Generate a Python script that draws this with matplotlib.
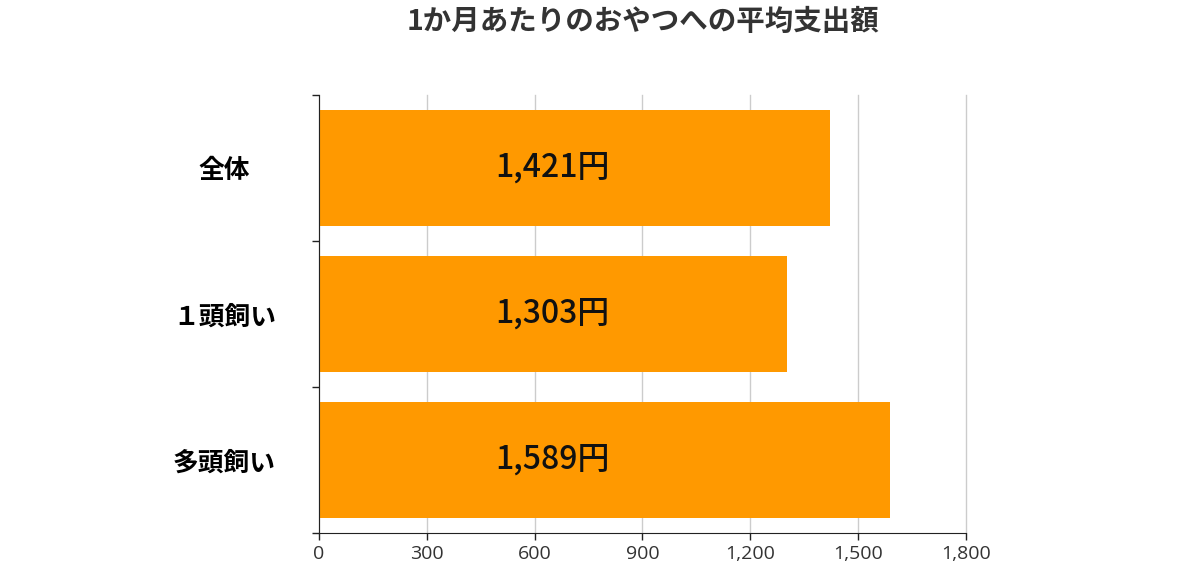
import numpy as np
import matplotlib
matplotlib.use("Agg")
import matplotlib.pyplot as plt
from matplotlib.ticker import FuncFormatter

plt.rcParams['font.family'] = ['Noto Sans CJK JP', 'DejaVu Sans']

# data
categories = ["全体", "１頭飼い", "多頭飼い"]
values = [1421, 1303, 1589]
labels = ["1,421円", "1,303円", "1,589円"]
xticks = [0, 300, 600, 900, 1200, 1500, 1800]

fig = plt.figure(figsize=(12, 5.82), dpi=100)
ax = fig.add_axes([0.2658, 0.0842, 0.8050 - 0.2658, 0.8368 - 0.0842])

y = np.arange(len(categories))
ax.barh(y, values, height=0.8, color="#ff9900", zorder=2)

for yi, lab in zip(y, labels):
    ax.text(650, yi, lab, ha="center", va="center", fontsize=23,
            fontweight="medium", color="#111111", zorder=3)

ax.set_xlim(0, 1800)
ax.set_ylim(2.5, -0.5)
ax.set_xticks(xticks)
ax.xaxis.set_major_formatter(FuncFormatter(lambda v, p: f"{int(v):,}"))
ax.tick_params(axis="x", length=5, width=1, color="#222222", labelsize=14,
               labelcolor="#333333", pad=4)
for t in ax.get_xticklabels():
    t.set_fontfamily(["Open Sans", "DejaVu Sans"])

ax.set_yticks(y)
ax.set_yticklabels(categories, fontsize=18.5, fontweight="bold", ha="center")
ax.tick_params(axis="y", which="major", length=0, pad=68)
ax.set_yticks([-0.5, 0.5, 1.5, 2.5], minor=True)
ax.tick_params(axis="y", which="minor", length=5, width=1, color="#222222")

ax.grid(axis="x", color="#cccccc", linewidth=1, zorder=0)
for gl in ax.get_xgridlines():
    gl.set_clip_on(False)
ax.set_axisbelow(True)
for s in ["top", "right"]:
    ax.spines[s].set_visible(False)
ax.spines["left"].set_color("#222222")
ax.spines["bottom"].set_color("#222222")

fig.text(0.536, 0.962, "1か月あたりのおやつへの平均支出額", ha="center", va="center",
         fontsize=20.5, fontweight="bold", color="#333333")

fig.savefig("out.png", dpi=100)
